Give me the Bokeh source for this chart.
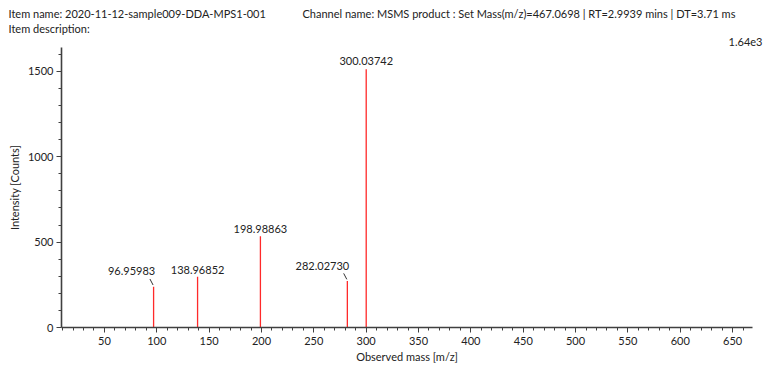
from bokeh.plotting import figure
from bokeh.layouts import column, row
from bokeh.models import ColumnDataSource, FixedTicker, Range1d
from bokeh.core.properties import value
from bokeh.embed import file_html
from bokeh.resources import INLINE

# Product ion spectrum: centroid peaks (m/z, counts)
peak_mz = [96.95983, 138.96852, 198.98863, 282.02730, 300.03742]
peak_counts = [239, 297, 535, 272, 1513]
peak_labels = ["96.95983", "138.96852", "198.98863", "282.02730", "300.03742"]
# label placement: pixel shift of each peak annotation (crowded ones get a leader)
label_dx = [-22, 0, 0, -25, 0]
label_dy = [-12, -3, -3, -11, -4]
has_leader = [True, False, False, True, False]

x_major = [50, 100, 150, 200, 250, 300, 350, 400, 450, 500, 550, 600, 650]
y_major = [0, 500, 1000, 1500]
x_lo, x_hi = 9, 669
y_hi = 1640

item_name = "Item name: 2020-11-12-sample009-DDA-MPS1-001"
item_desc = "Item description:"
channel = "Channel name: MSMS product : Set Mass(m/z)=467.0698 | RT=2.9939 mins | DT=3.71 ms"
scale_note = "1.64e3"

FONT = "Lato"
FS = "11px"
AXIS_COL = "#404040"
TXT_COL = "#222222"
PEAK_COL = "#ff2a2a"

W, H = 767, 368
HEAD_H = 47

# ---- header strip: item / channel information and the intensity scale note
head = figure(width=W, height=HEAD_H, output_backend="svg", toolbar_location=None,
              x_range=Range1d(0, W), y_range=Range1d(HEAD_H, 0),
              min_border=0, min_border_left=0, min_border_right=0,
              min_border_top=0, min_border_bottom=0,
              x_axis_location=None, y_axis_location=None)
head.outline_line_color = None
head.grid.visible = False

hx = [8, 8, 302]
hy = [13, 28, 13]
htxt = [item_name, item_desc, channel]
head.text(x=hx, y=hy, text=htxt, text_font=value(FONT), text_font_size=FS,
          text_color=TXT_COL, text_align="left", text_baseline="middle")
head.text(x=[762], y=[41], text=[scale_note], text_font=value(FONT),
          text_font_size=FS, text_color=TXT_COL, text_align="right",
          text_baseline="middle")

# ---- spectrum
p = figure(width=W, height=H - HEAD_H, output_backend="svg", toolbar_location=None,
           x_range=Range1d(x_lo, x_hi), y_range=Range1d(0, y_hi),
           min_border_left=61, min_border_right=15, min_border_top=0,
           min_border_bottom=41)
p.outline_line_color = None
p.grid.visible = False

src = ColumnDataSource(dict(mz=peak_mz, counts=peak_counts, zero=[0] * len(peak_mz),
                            lab=peak_labels, dx=label_dx, dy=label_dy))
p.segment(x0="mz", y0="zero", x1="mz", y1="counts", source=src,
          line_color=PEAK_COL, line_width=1.3)
p.text(x="mz", y="counts", text="lab", source=src, x_offset="dx", y_offset="dy",
       text_align="center", text_baseline="bottom", text_font=value(FONT),
       text_font_size=FS, text_color=TXT_COL)

# short leader ticks for the shifted annotations
lx0, ly0, lx1, ly1 = [], [], [], []
for mz, c, lead in zip(peak_mz, peak_counts, has_leader):
    if lead:
        lx0.append(mz - 3.5); ly0.append(c + 45)
        lx1.append(mz - 0.5); ly1.append(c + 10)
p.segment(x0=lx0, y0=ly0, x1=lx1, y1=ly1, line_color="#333333", line_width=1)

for ax in (p.xaxis[0], p.yaxis[0]):
    ax.axis_line_color = AXIS_COL
    ax.axis_line_width = 1.6
    ax.major_tick_line_color = AXIS_COL
    ax.minor_tick_line_color = AXIS_COL
    ax.major_tick_in = 0
    ax.minor_tick_in = 0
    ax.major_tick_out = 5
    ax.minor_tick_out = 3
    ax.major_label_text_font = FONT
    ax.major_label_text_font_size = FS
    ax.major_label_text_color = TXT_COL
    ax.axis_label_text_font = FONT
    ax.axis_label_text_font_size = FS
    ax.axis_label_text_font_style = "normal"
    ax.axis_label_text_color = TXT_COL

p.xaxis.ticker = FixedTicker(ticks=x_major,
                             minor_ticks=list(range(10, 670, 10)))
p.yaxis.ticker = FixedTicker(ticks=y_major,
                             minor_ticks=list(range(100, 1700, 100)))
p.xaxis.major_label_standoff = 4
p.yaxis.major_label_standoff = 3
p.xaxis.axis_label = "Observed mass [m/z]"
p.yaxis.axis_label = "Intensity [Counts]"
p.xaxis.axis_label_standoff = 2
p.yaxis.axis_label_standoff = 4

layout = column(row(head), row(p), spacing=0)
open("out.html", "w").write(file_html(layout, INLINE))
